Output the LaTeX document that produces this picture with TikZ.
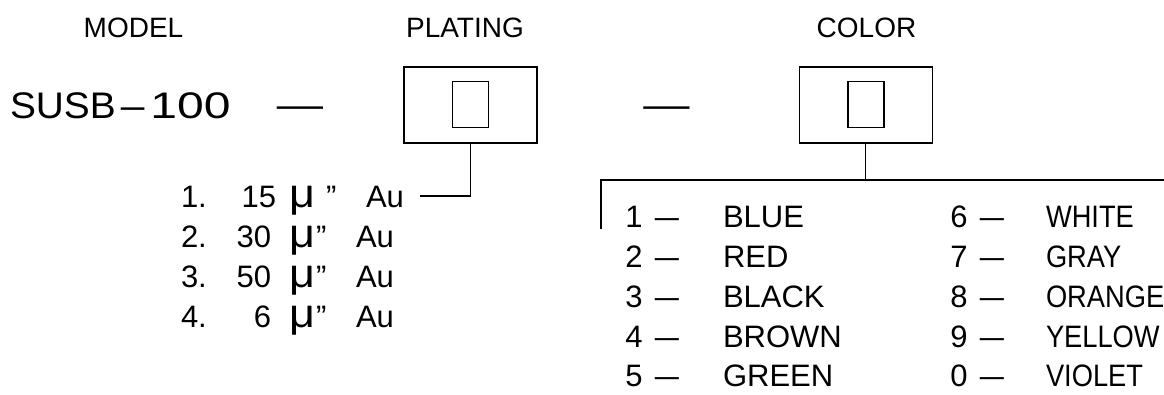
\documentclass[tikz,border=0pt]{standalone}
\usepackage{fontspec}
\setmainfont{Liberation Sans}
\usepackage{graphicx}
\newcommand{\cdsh}{\scalebox{1.4}[1]{–}}
\newcommand{\bdsh}{\scalebox{1.25}[1]{—}}
\newcommand{\mic}{\scalebox{1.45}[1.3]{μ}}
\tikzset{
  txt/.style={inner sep=0pt, outer sep=0pt, font=\fontsize{31}{36}\selectfont, anchor=base},
  hdr/.style={inner sep=0pt, outer sep=0pt, font=\fontsize{28}{32}\selectfont, anchor=base},
  big/.style={inner sep=0pt, outer sep=0pt, font=\fontsize{37}{42}\selectfont, anchor=base},
  outbox/.style={draw, line width=1.3pt, minimum width=133pt, minimum height=76pt, inner sep=0pt, outer sep=0pt},
  inbox/.style={draw, line width=1.3pt, minimum width=36pt, minimum height=46pt, inner sep=0pt, outer sep=0pt},
  wire/.style={line width=1.3pt}
}
\begin{document}
\begin{tikzpicture}[x=1pt,y=-1pt]
\clip (0,0) rectangle (1164,394);
% headers
\node[hdr] (hmodel) at (133.5,37) {MODEL};
\node[hdr] (hplat) at (465,37) {PLATING};
\node[hdr] (hcol) at (866.5,37) {COLOR};
% model line
\node[big, anchor=base west] (model) at (10,118) {\scalebox{1.05}[1]{SUSB}\kern5pt\scalebox{1.15}[1]{–}\kern6pt\scalebox{1.3}[1]{100}};
\node[big] (d1) at (300,117) {\bdsh};
\node[big] (d2) at (666.5,117) {\bdsh};
% boxes
\node[outbox] (plate) at (470.5,105) {};
\node[inbox] (platein) at (470.7,104.5) {};
\node[outbox] (col) at (865.7,105) {};
\node[inbox] (colin) at (866,104.5) {};
% plating list
\node[txt, anchor=base west] (p1n) at (181,207) {1.};
\node[txt, anchor=base east] (p1v) at (276,207) {15};
\node[txt, anchor=base west] (p1m) at (289,207) {\mic};
\node[txt, anchor=base west] (p1q) at (326,207) {”};
\node[txt, anchor=base west] (p1a) at (366,207) {Au};
\node[txt, anchor=base west] (p2n) at (181,247) {2.};
\node[txt, anchor=base east] (p2v) at (271,247) {30};
\node[txt, anchor=base west] (p2m) at (289,247) {\mic};
\node[txt, anchor=base west] (p2q) at (316,247) {”};
\node[txt, anchor=base west] (p2a) at (356,247) {Au};
\node[txt, anchor=base west] (p3n) at (181,287) {3.};
\node[txt, anchor=base east] (p3v) at (271,287) {50};
\node[txt, anchor=base west] (p3m) at (289,287) {\mic};
\node[txt, anchor=base west] (p3q) at (316,287) {”};
\node[txt, anchor=base west] (p3a) at (356,287) {Au};
\node[txt, anchor=base west] (p4n) at (181,327) {4.};
\node[txt, anchor=base east] (p4v) at (271,327) {6};
\node[txt, anchor=base west] (p4m) at (289,327) {\mic};
\node[txt, anchor=base west] (p4q) at (316,327) {”};
\node[txt, anchor=base west] (p4a) at (356,327) {Au};
% plating connector
\coordinate (pend) at (420,196);
\draw[wire] (plate.south) |- (pend);
% colour bracket
\coordinate (cj) at (865.7,180);
\coordinate (bl) at (601,229);
\coordinate (br) at (1170,180);
\draw[wire] (col.south) -- (cj);
\draw[wire] (bl) |- (br);
% colour list
\foreach \n/\name/\y in {1/BLUE/227, 2/RED/267, 3/BLACK/307, 4/BROWN/347, 5/GREEN/386}{
  \node[txt] (cn\n) at (634,\y) {\n};
  \node[txt] (cd\n) at (667,\y) {\cdsh};
  \node[txt, anchor=base west] (cc\n) at (723,\y) {\name};
}
\foreach \n/\name/\y in {6/WHITE/227, 7/GRAY/267, 8/ORANGE/307, 9/YELLOW/347, 0/VIOLET/386}{
  \node[txt] (cn\n) at (959,\y) {\n};
  \node[txt] (cd\n) at (992,\y) {\cdsh};
  \node[txt, anchor=base west] (cc\n) at (1046,\y) {\scalebox{0.88}[1]{\name}};
}
\end{tikzpicture}
\end{document}
